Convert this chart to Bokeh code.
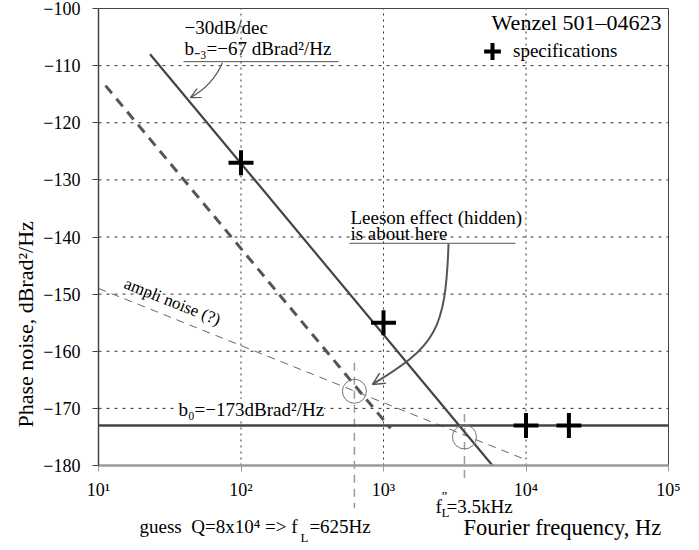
import math
from bokeh.plotting import figure
from bokeh.models import (FixedTicker, Label, Arrow, OpenHead, Legend, LegendItem)
from bokeh.embed import file_html
from bokeh.resources import INLINE

# ---------------- data ----------------
x_ticks = [10, 100, 1000, 10000, 100000]
x_tick_labels = ["10¹", "10²", "10³", "10⁴", "10⁵"]
y_ticks = [-180, -170, -160, -150, -140, -130, -120, -110, -100]
y_tick_labels = ["−180", "−170", "−160", "−150", "−140", "−130", "−120", "−110", "−100"]

spec_freq = [100, 1000, 10000, 20000]
spec_dB = [-127, -155, -173, -173]

flicker_freq = [23, 5820]          # -30 dB/dec, b-3 = -67
flicker_dB = [-108, -180]

leeson_freq = [11.2, 1120]         # guessed Leeson slope (dashed)
leeson_dB = [-113.5, -173.5]

ampli_freq = [10, 10000]           # ampli noise (?)
ampli_dB = [-149, -179]

floor_freq = [10, 100000]          # b0 = -173
floor_dB = [-173, -173]

corner_freq = [625, 3700]
corner_dB = [-167, -175]
vline_top = [-162, -171]
vline_bottom = [-187.5, -183.2]

FONT = "Liberation Serif"
DARK = "#444444"

# frame fills the whole canvas; axes are pinned at (10, -180)
DEC_PX = 142.5
DB_PX = 5.7125
p = figure(width=699, height=550, x_axis_type="log",
           x_range=(10 ** (1 - 98 / DEC_PX), 10 ** (5 + 31 / DEC_PX)),
           y_range=(-180 - 85 / DB_PX, -100 + 8 / DB_PX),
           output_backend="svg", toolbar_location=None)
p.min_border_left = p.min_border_right = p.min_border_top = p.min_border_bottom = 0
p.background_fill_color = "white"
p.border_fill_color = "white"
p.outline_line_color = None
p.xgrid.visible = False
p.ygrid.visible = False

xt = FixedTicker(ticks=x_ticks)
yt = FixedTicker(ticks=y_ticks)
p.xaxis.ticker = xt
p.yaxis.ticker = yt
p.xaxis.major_label_overrides = dict(zip(x_ticks, x_tick_labels))
p.yaxis.major_label_overrides = dict(zip(y_ticks, y_tick_labels))
p.xaxis.fixed_location = y_ticks[0]
p.xaxis.bounds = (x_ticks[0], x_ticks[-1])
p.yaxis.fixed_location = x_ticks[0]
p.yaxis.bounds = (y_ticks[0], y_ticks[-1])

for ax in (p.xaxis, p.yaxis):
    ax.major_label_text_font = FONT
    ax.major_label_text_font_size = "18px"
    ax.major_label_text_color = "black"
    ax.minor_tick_line_color = None
    ax.major_tick_in = 0
    ax.major_tick_out = 6

p.xaxis.axis_line_color = "#9a9a9a"
p.xaxis.axis_line_width = 2.5
p.xaxis.major_tick_line_color = "#9a9a9a"
p.xaxis.major_label_standoff = 8

p.yaxis.axis_line_color = DARK
p.yaxis.axis_line_width = 1.5
p.yaxis.major_tick_line_color = DARK
p.yaxis.major_label_standoff = 12

# grid (dotted) and frame border
gx = x_ticks[1:-1]
gy = y_ticks[1:-1]
p.segment(x0=gx, y0=[y_ticks[0]] * len(gx), x1=gx, y1=[y_ticks[-1]] * len(gx),
          line_color="#333333", line_width=1, line_dash="2 4")
p.segment(x0=[x_ticks[0]] * len(gy), y0=gy, x1=[x_ticks[-1]] * len(gy), y1=gy,
          line_color="#333333", line_width=1, line_dash="3 5")
p.line([x_ticks[0], x_ticks[-1], x_ticks[-1]], [y_ticks[-1], y_ticks[-1], y_ticks[0]],
       line_color=DARK, line_width=1)

# ---------------- lines ----------------
p.line(ampli_freq, ampli_dB, line_color="#666666", line_width=1, line_dash="8 6")
p.line(leeson_freq, leeson_dB, line_color="#555555", line_width=3, line_dash="10 7")
p.segment(x0=corner_freq, y0=vline_top, x1=corner_freq, y1=vline_bottom,
          line_color="#9a9a9a", line_width=1.5, line_dash="8 6")
p.line(floor_freq, floor_dB, line_color=DARK, line_width=2.5)
p.line(flicker_freq, flicker_dB, line_color=DARK, line_width=2.2)

p.scatter(corner_freq, corner_dB, marker="circle", size=24, fill_color=None,
          line_color="#777777", line_width=1)

r_spec = p.scatter(spec_freq, spec_dB, marker="cross", size=25, line_width=4,
                   line_color="black")

# ---------------- annotations ----------------
def lab(x, y, text, size="19px", align="left", baseline="middle", angle=0, bg=None):
    kw = {}
    if bg is not None:
        kw["background_fill_color"] = bg
    p.add_layout(Label(x=x, y=y, text=text, text_font=FONT, text_font_size=size,
                       text_align=align, text_baseline=baseline, angle=angle,
                       text_color="black", **kw))

# y axis title
lab(10 ** (1 - 73 / DEC_PX), -155.3, "Phase noise, dBrad²/Hz", size="22px",
    align="center", angle=math.pi / 2)

# top-left annotation
lab(40.1, -103.3, "−30dB/dec")
lab(40.1, -107.0, "b₋₃=−67 dBrad²/Hz")
p.line([39.5, 483], [-109.3, -109.3], line_color="#555555", line_width=1)
p.quadratic(x0=[74.1], y0=[-109.5], x1=[44.2], y1=[-115.6], cx=[63.1], cy=[-113.5],
            line_color="#555555", line_width=1.2)
p.add_layout(Arrow(end=OpenHead(size=10, line_color="#555555", line_width=1.2),
                   x_start=52, y_start=-114.7, x_end=44.2, y_end=-115.6, line_color=None))

# title / legend
lab(89330, -102.5, "Wenzel 501–04623", size="22px", align="right")
legend = Legend(items=[LegendItem(label="specifications", renderers=[r_spec])],
                location=(471, 474), glyph_width=42, glyph_height=50,
                label_standoff=0, padding=0, margin=0, spacing=0,
                border_line_alpha=0, background_fill_alpha=0,
                label_text_font=FONT, label_text_font_size="19px",
                label_text_color="black")
p.add_layout(legend)

# Leeson annotation
lab(586, -136.6, "Leeson effect (hidden)")
lab(586, -139.4, "is about here")
p.line([577, 8433], [-141.1, -141.1], line_color="#555555", line_width=1)
p.bezier(x0=[2860], y0=[-141.2], x1=[837], y1=[-165.8], cx0=[2723], cy0=[-156.5],
         cx1=[2317], cy1=[-159.1], line_color="#555555", line_width=2)
p.add_layout(Arrow(end=OpenHead(size=12, line_color="#555555", line_width=1.5),
                   x_start=1119, y_start=-163.9, x_end=837, y_end=-165.8, line_color=None))

# ampli noise
lab(33.0, -151.3, "ampli noise (?)", size="17px", align="center", angle=-0.3805)

# b0
lab(36.4, -170.2, "b₀=−173dBrad²/Hz", bg="white")

# below axis
lab(19.4, -190.7, "guess\u00a0 Q=8x10⁴ => f")
lab(261.5, -192.6, "L", size="13px")
lab(302, -190.7, "=625Hz")

lab(2317, -187.2, "f")
lab(2553, -188.3, "L", size="13px")
lab(2553, -185.3, "”", size="13px")
lab(2767, -187.2, "=3.5kHz")

lab(3637, -190.9, "Fourier frequency, Hz", size="22.5px")

open("out.html", "w").write(file_html(p, INLINE))
